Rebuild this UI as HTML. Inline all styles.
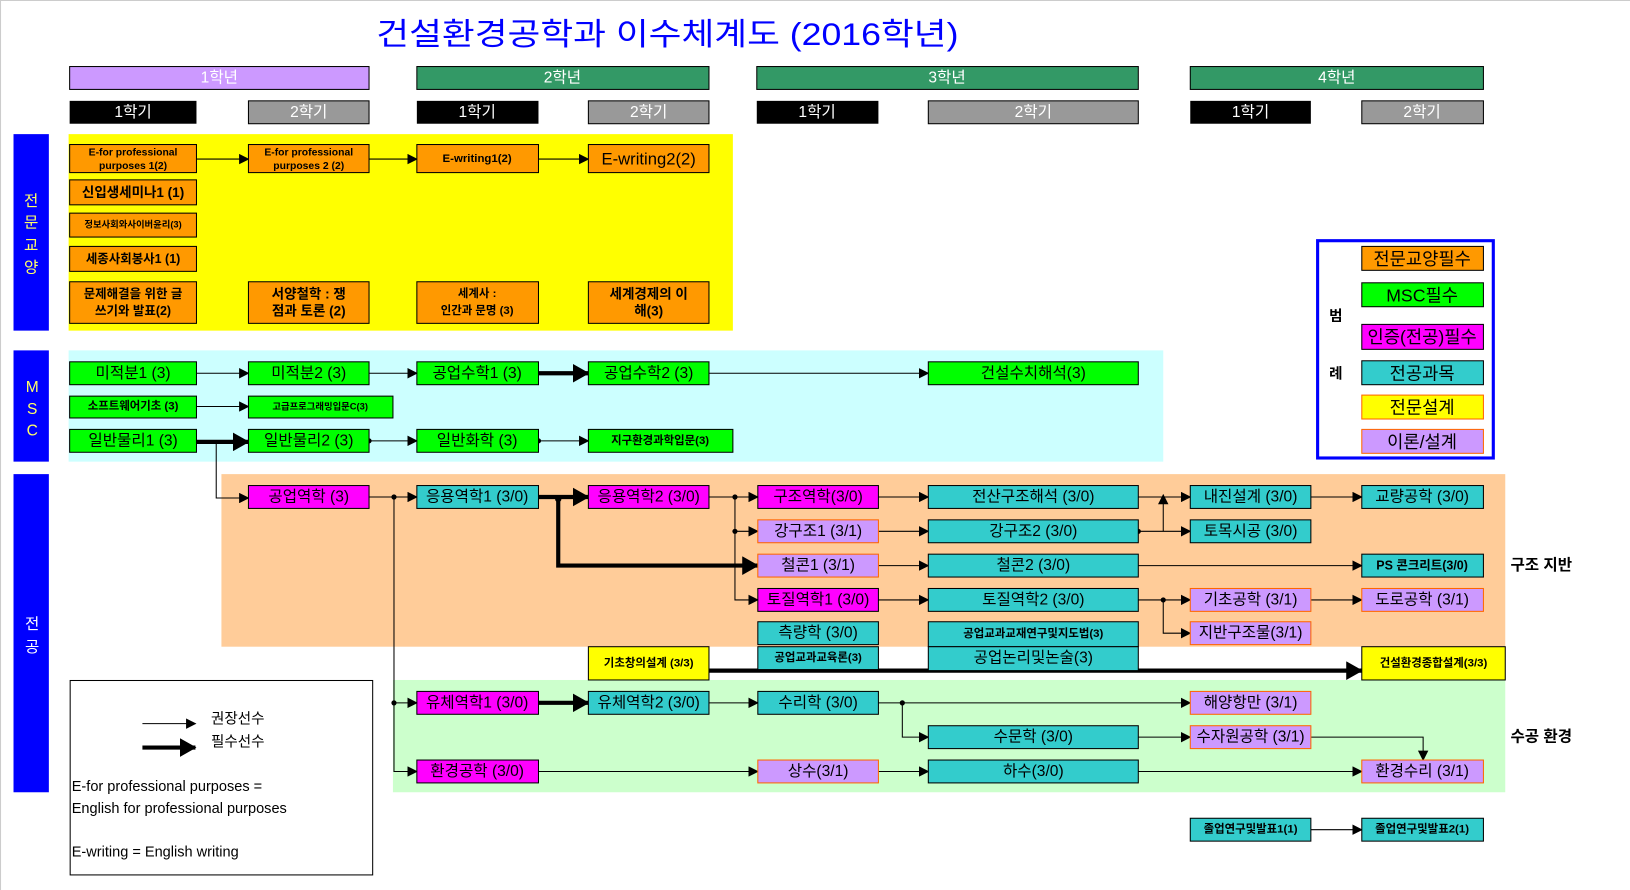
<!DOCTYPE html>
<html><head><meta charset="utf-8"><style>
html,body{margin:0;padding:0;background:#fff;width:1630px;height:890px;overflow:hidden}
svg{display:block}
text{font-family:"Liberation Sans","Noto Sans CJK KR",sans-serif;}
.b{font-size:15px;text-anchor:middle;dominant-baseline:central;fill:#000}
.s{font-size:11px;font-weight:bold;text-anchor:middle;dominant-baseline:central;fill:#000}
.w{font-size:15px;text-anchor:middle;dominant-baseline:central;fill:#fff}
</style></head><body>
<svg width="1630" height="890" viewBox="0 0 1568 856" preserveAspectRatio="none" xmlns="http://www.w3.org/2000/svg">
<defs>
<marker id="a" markerUnits="userSpaceOnUse" markerWidth="10" markerHeight="10" refX="9" refY="5" orient="auto"><path d="M0,0 L10,5 L0,10 z" fill="#000"/></marker>
<marker id="A" markerUnits="userSpaceOnUse" markerWidth="16" markerHeight="18" refX="15" refY="9" orient="auto"><path d="M0,0 L16,9 L0,18 z" fill="#000"/></marker>
</defs>
<rect x="0" y="0" width="1568" height="856" fill="#fff"/>
<line x1="0.5" y1="0" x2="0.5" y2="856" stroke="#ccc"/>
<line x1="0" y1="0.5" x2="1568" y2="0.5" stroke="#ccc"/>
<text x="362" y="33" textLength="560" lengthAdjust="spacingAndGlyphs" style="font-size:30px;fill:#0000ff;dominant-baseline:central">건설환경공학과 이수체계도 (2016학년)</text>

<!-- year headers -->
<rect x="67" y="64" width="288" height="22" fill="#cc99ff" stroke="#000"/><text class="w" x="211" y="75">1학년</text>
<rect x="401" y="64" width="281" height="22" fill="#339966" stroke="#000"/><text class="w" x="541" y="75">2학년</text>
<rect x="728" y="64" width="367" height="22" fill="#339966" stroke="#000"/><text class="w" x="911" y="75">3학년</text>
<rect x="1145" y="64" width="282" height="22" fill="#339966" stroke="#000"/><text class="w" x="1286" y="75">4학년</text>
<rect x="67" y="97" width="122" height="22" fill="#000"/><text class="w" x="128" y="108">1학기</text>
<rect x="239" y="97" width="116" height="22" fill="#999" stroke="#000"/><text class="w" x="297" y="108">2학기</text>
<rect x="401" y="97" width="117" height="22" fill="#000"/><text class="w" x="459" y="108">1학기</text>
<rect x="566" y="97" width="116" height="22" fill="#999" stroke="#000"/><text class="w" x="624" y="108">2학기</text>
<rect x="728" y="97" width="117" height="22" fill="#000"/><text class="w" x="786" y="108">1학기</text>
<rect x="893" y="97" width="202" height="22" fill="#999" stroke="#000"/><text class="w" x="994" y="108">2학기</text>
<rect x="1145" y="97" width="116" height="22" fill="#000"/><text class="w" x="1203" y="108">1학기</text>
<rect x="1310" y="97" width="117" height="22" fill="#999" stroke="#000"/><text class="w" x="1368" y="108">2학기</text>

<!-- side labels -->
<rect x="13" y="129" width="34" height="189" fill="#0000ff"/>
<text style="font-size:15px;fill:#ffff66;text-anchor:middle" x="30" y="198">전</text>
<text style="font-size:15px;fill:#ffff66;text-anchor:middle" x="30" y="219">문</text>
<text style="font-size:15px;fill:#ffff66;text-anchor:middle" x="30" y="241">교</text>
<text style="font-size:15px;fill:#ffff66;text-anchor:middle" x="30" y="262">양</text>
<rect x="13" y="337" width="34" height="107" fill="#0000ff"/>
<text style="font-size:15px;fill:#ffff66;text-anchor:middle" x="31" y="377">M</text>
<text style="font-size:15px;fill:#ffff66;text-anchor:middle" x="31" y="398">S</text>
<text style="font-size:15px;fill:#ffff66;text-anchor:middle" x="31" y="419">C</text>
<rect x="13" y="456" width="34" height="306" fill="#0000ff"/>
<text style="font-size:15px;fill:#fff;text-anchor:middle" x="31" y="605">전</text>
<text style="font-size:15px;fill:#fff;text-anchor:middle" x="31" y="627">공</text>

<!-- regions -->
<rect x="66" y="129" width="639" height="189" fill="#ffff00"/>
<rect x="66" y="337" width="1053" height="107" fill="#ccffff"/>
<rect x="213" y="456" width="1235" height="166" fill="#ffcc99"/>
<rect x="378" y="654" width="1070" height="108" fill="#ccffcc"/>

<!-- connectors (thin) -->
<g stroke="#000" stroke-width="1" fill="none" marker-end="url(#a)">
<line x1="189" y1="153" x2="239" y2="153"/>
<line x1="355" y1="153" x2="401" y2="153"/>
<line x1="518" y1="153" x2="566" y2="153"/>
<line x1="189" y1="359" x2="239" y2="359"/>
<line x1="355" y1="359" x2="401" y2="359"/>
<line x1="682" y1="359" x2="893" y2="359"/>
<line x1="189" y1="391" x2="239" y2="391"/>
<line x1="355" y1="424" x2="401" y2="424"/>
<line x1="518" y1="424" x2="566" y2="424"/>
<polyline points="208,424 208,479 239,479"/>
<line x1="355" y1="478" x2="401" y2="478"/>
<polyline points="379,478 379,676 401,676"/>
<polyline points="379,676 379,742 401,742"/>
<line x1="682" y1="478" x2="729" y2="478"/>
<polyline points="707,478 707,511 729,511"/>
<polyline points="707,511 707,577 729,577"/>
<line x1="845" y1="478" x2="893" y2="478"/>
<line x1="845" y1="511" x2="893" y2="511"/>
<line x1="845" y1="544" x2="893" y2="544"/>
<line x1="845" y1="577" x2="893" y2="577"/>
<line x1="1095" y1="478" x2="1145" y2="478"/>
<line x1="1095" y1="511" x2="1145" y2="511"/>
<line x1="1119" y1="511" x2="1119" y2="476"/>
<line x1="1261" y1="478" x2="1310" y2="478"/>
<line x1="1095" y1="544" x2="1310" y2="544"/>
<line x1="1095" y1="577" x2="1145" y2="577"/>
<polyline points="1119,577 1119,609 1145,609"/>
<line x1="1261" y1="577" x2="1310" y2="577"/>
<line x1="682" y1="676" x2="729" y2="676"/>
<line x1="845" y1="676" x2="1145" y2="676"/>
<polyline points="868,676 868,709 893,709"/>
<line x1="1095" y1="709" x2="1145" y2="709"/>
<polyline points="1261,709 1369,709 1369,731"/>
<line x1="518" y1="742" x2="729" y2="742"/>
<line x1="845" y1="742" x2="893" y2="742"/>
<line x1="1095" y1="742" x2="1310" y2="742"/>
<line x1="1261" y1="798" x2="1310" y2="798"/>
<line x1="137" y1="696" x2="188" y2="696"/>
</g>
<!-- thick -->
<g stroke="#000" stroke-width="4" fill="none" marker-end="url(#A)">
<line x1="518" y1="359" x2="566" y2="359"/>
<line x1="189" y1="425" x2="239" y2="425"/>
<line x1="518" y1="478" x2="566" y2="478"/>
<polyline points="537,478 537,544 729,544"/>
<line x1="682" y1="645" x2="1310" y2="645"/>
<line x1="518" y1="676" x2="566" y2="676"/>
<line x1="137" y1="719" x2="188" y2="719"/>
</g>
<g fill="#000">
<circle cx="355" cy="424" r="2.5"/><circle cx="518" cy="424" r="2.5"/>
<circle cx="379" cy="478" r="2.5"/><circle cx="379" cy="676" r="2.5"/>
<circle cx="537" cy="480" r="3"/><circle cx="707" cy="478" r="2.5"/><circle cx="707" cy="511" r="2.5"/>
<circle cx="1095" cy="511" r="2.5"/><circle cx="1119" cy="577" r="2.5"/><circle cx="868" cy="676" r="2.5"/>
</g>

<!-- 전문교양 boxes -->
<g stroke="#000" stroke-width="1" fill="#ff9900">
<rect x="67" y="139" width="122" height="27"/><rect x="239" y="139" width="116" height="27"/>
<rect x="401" y="139" width="117" height="27"/><rect x="566" y="139" width="116" height="27"/>
<rect x="67" y="173" width="122" height="24"/><rect x="67" y="205" width="122" height="23"/>
<rect x="67" y="237" width="122" height="24"/>
<rect x="67" y="271" width="122" height="40"/><rect x="239" y="271" width="116" height="40"/>
<rect x="401" y="271" width="117" height="40"/><rect x="566" y="271" width="116" height="40"/>
</g>
<text class="s" x="128" y="147" style="font-size:10px">E-for professional</text>
<text class="s" x="128" y="160" style="font-size:10px">purposes 1(2)</text>
<text class="s" x="297" y="147" style="font-size:10px">E-for professional</text>
<text class="s" x="297" y="160" style="font-size:10px">purposes 2 (2)</text>
<text class="s" x="459" y="153">E-writing1(2)</text>
<text class="b" x="624" y="153" style="font-size:16px">E-writing2(2)</text>
<text class="s" x="128" y="185" style="font-size:13px">신입생세미나1 (1)</text>
<text class="s" x="128" y="216" style="font-size:9px">정보사회와사이버윤리(3)</text>
<text class="s" x="128" y="249" style="font-size:12px">세종사회봉사1 (1)</text>
<text class="s" x="128" y="283" style="font-size:12px">문제해결을 위한 글</text>
<text class="s" x="128" y="299" style="font-size:12px">쓰기와 발표(2)</text>
<text class="s" x="297" y="283" style="font-size:13px">서양철학 :  쟁</text>
<text class="s" x="297" y="299" style="font-size:13px">점과 토론 (2)</text>
<text class="s" x="459" y="283">세계사 :</text>
<text class="s" x="459" y="299">인간과 문명 (3)</text>
<text class="s" x="624" y="283" style="font-size:13px">세계경제의 이</text>
<text class="s" x="624" y="299" style="font-size:13px">해(3)</text>

<!-- MSC boxes -->
<g stroke="#000" stroke-width="1" fill="#00ff00">
<rect x="67" y="348" width="122" height="22"/><rect x="239" y="348" width="116" height="22"/>
<rect x="401" y="348" width="117" height="22"/><rect x="566" y="348" width="116" height="22"/>
<rect x="893" y="348" width="202" height="22"/>
<rect x="67" y="381" width="122" height="21"/><rect x="239" y="381" width="139" height="21"/>
<rect x="67" y="413" width="122" height="22"/><rect x="239" y="413" width="116" height="22"/>
<rect x="401" y="413" width="117" height="22"/><rect x="566" y="413" width="139" height="22"/>
</g>
<text class="b" x="128" y="359">미적분1 (3)</text><text class="b" x="297" y="359">미적분2 (3)</text>
<text class="b" x="459" y="359">공업수학1 (3)</text><text class="b" x="624" y="359">공업수학2 (3)</text>
<text class="b" x="994" y="359">건설수치해석(3)</text>
<text class="s" x="128" y="391">소프트웨어기초 (3)</text><text class="s" x="308" y="391" style="font-size:9px">고급프로그래밍입문C(3)</text>
<text class="b" x="128" y="424">일반물리1 (3)</text><text class="b" x="297" y="424">일반물리2 (3)</text>
<text class="b" x="459" y="424">일반화학 (3)</text><text class="s" x="635" y="424">지구환경과학입문(3)</text>

<!-- 전공 boxes -->
<g stroke="#000" stroke-width="1">
<rect x="239" y="467" width="116" height="22" fill="#ff00ff"/>
<rect x="401" y="467" width="117" height="22" fill="#33cccc"/>
<rect x="566" y="467" width="116" height="22" fill="#ff00ff"/>
<rect x="729" y="467" width="116" height="22" fill="#ff00ff"/>
<rect x="893" y="467" width="202" height="22" fill="#33cccc"/>
<rect x="1145" y="467" width="116" height="22" fill="#33cccc"/>
<rect x="1310" y="467" width="117" height="22" fill="#33cccc"/>
<rect x="893" y="500" width="202" height="22" fill="#33cccc"/>
<rect x="1145" y="500" width="116" height="22" fill="#33cccc"/>
<rect x="893" y="533" width="202" height="22" fill="#33cccc"/>
<rect x="1310" y="533" width="117" height="22" fill="#33cccc"/>
<rect x="729" y="566" width="116" height="22" fill="#ff00ff"/>
<rect x="893" y="566" width="202" height="22" fill="#33cccc"/>
<rect x="729" y="598" width="116" height="22" fill="#33cccc"/>
<rect x="893" y="598" width="202" height="24" fill="#33cccc"/>
<rect x="729" y="622" width="116" height="22" fill="#33cccc"/>
<rect x="893" y="622" width="202" height="23" fill="#33cccc"/>
<rect x="566" y="622" width="116" height="32" fill="#ffff00"/>
<rect x="1310" y="622" width="138" height="32" fill="#ffff00"/>
<rect x="401" y="665" width="117" height="22" fill="#ff00ff"/>
<rect x="566" y="665" width="116" height="22" fill="#33cccc"/>
<rect x="729" y="665" width="116" height="22" fill="#33cccc"/>
<rect x="893" y="698" width="202" height="22" fill="#33cccc"/>
<rect x="401" y="731" width="117" height="22" fill="#ff00ff"/>
<rect x="893" y="731" width="202" height="22" fill="#33cccc"/>
<rect x="1145" y="787" width="116" height="22" fill="#33cccc"/>
<rect x="1310" y="787" width="117" height="22" fill="#33cccc"/>
</g>
<g stroke="#ff6600" stroke-width="1" fill="#cc99ff">
<rect x="729" y="500" width="116" height="22"/><rect x="729" y="533" width="116" height="22"/>
<rect x="1145" y="566" width="116" height="22"/><rect x="1310" y="566" width="117" height="22"/>
<rect x="1145" y="598" width="116" height="22"/>
<rect x="1145" y="665" width="116" height="22"/><rect x="1145" y="698" width="116" height="22"/>
<rect x="729" y="731" width="116" height="22"/><rect x="1310" y="731" width="117" height="22"/>
</g>
<text class="b" x="297" y="478">공업역학 (3)</text>
<text class="b" x="459" y="478">응용역학1 (3/0)</text>
<text class="b" x="624" y="478">응용역학2 (3/0)</text>
<text class="b" x="787" y="478">구조역학(3/0)</text>
<text class="b" x="994" y="478">전산구조해석 (3/0)</text>
<text class="b" x="1203" y="478">내진설계 (3/0)</text>
<text class="b" x="1368" y="478">교량공학 (3/0)</text>
<text class="b" x="787" y="511">강구조1 (3/1)</text>
<text class="b" x="994" y="511">강구조2 (3/0)</text>
<text class="b" x="1203" y="511">토목시공 (3/0)</text>
<text class="b" x="787" y="544">철콘1 (3/1)</text>
<text class="b" x="994" y="544">철콘2 (3/0)</text>
<text class="s" x="1368" y="544" style="font-size:12px">PS 콘크리트(3/0)</text>
<text class="b" x="787" y="577">토질역학1 (3/0)</text>
<text class="b" x="994" y="577">토질역학2 (3/0)</text>
<text class="b" x="1203" y="577">기초공학 (3/1)</text>
<text class="b" x="1368" y="577">도로공학 (3/1)</text>
<text class="b" x="787" y="609">측량학 (3/0)</text>
<text class="s" x="994" y="610">공업교과교재연구및지도법(3)</text>
<text class="b" x="1203" y="609">지반구조물(3/1)</text>
<text class="s" x="787" y="633">공업교과교육론(3)</text>
<text class="b" x="994" y="633">공업논리및논술(3)</text>
<text class="s" x="624" y="638">기초창의설계 (3/3)</text>
<text class="s" x="1379" y="638">건설환경종합설계(3/3)</text>
<text class="b" x="459" y="676">유체역학1 (3/0)</text>
<text class="b" x="624" y="676">유체역학2 (3/0)</text>
<text class="b" x="787" y="676">수리학 (3/0)</text>
<text class="b" x="1203" y="676">해양항만 (3/1)</text>
<text class="b" x="994" y="709">수문학 (3/0)</text>
<text class="b" x="1203" y="709">수자원공학 (3/1)</text>
<text class="b" x="459" y="742">환경공학 (3/0)</text>
<text class="b" x="787" y="742">상수(3/1)</text>
<text class="b" x="994" y="742">하수(3/0)</text>
<text class="b" x="1368" y="742">환경수리 (3/1)</text>
<text class="s" x="1203" y="798">졸업연구및발표1(1)</text>
<text class="s" x="1368" y="798">졸업연구및발표2(1)</text>
<text x="1453" y="544" style="font-size:15px;font-weight:bold;dominant-baseline:central">구조 지반</text>
<text x="1453" y="709" style="font-size:15px;font-weight:bold;dominant-baseline:central">수공 환경</text>

<!-- legend -->
<rect x="1267.5" y="231.5" width="169" height="209" fill="#fff" stroke="#0000ff" stroke-width="3"/>
<text x="1285" y="305" style="font-size:14px;font-weight:bold;text-anchor:middle;dominant-baseline:central">범</text>
<text x="1285" y="360" style="font-size:14px;font-weight:bold;text-anchor:middle;dominant-baseline:central">례</text>
<g stroke="#000">
<rect x="1310" y="237" width="117" height="23" fill="#ff9900"/>
<rect x="1310" y="272" width="117" height="23" fill="#00ff00"/>
<rect x="1310" y="312" width="117" height="24" fill="#ff00ff"/>
<rect x="1310" y="347" width="117" height="23" fill="#33cccc"/>
</g>
<g stroke="#ff6600">
<rect x="1310" y="380" width="117" height="23" fill="#ffff00"/>
<rect x="1310" y="413" width="117" height="23" fill="#cc99ff"/>
</g>
<text class="b" x="1368" y="249" style="font-size:17px">전문교양필수</text>
<text class="b" x="1368" y="284" style="font-size:17px">MSC필수</text>
<text class="b" x="1368" y="324" style="font-size:17px">인증(전공)필수</text>
<text class="b" x="1368" y="359" style="font-size:17px">전공과목</text>
<text class="b" x="1368" y="392" style="font-size:17px">전문설계</text>
<text class="b" x="1368" y="425" style="font-size:17px">이론/설계</text>

<!-- note box -->
<rect x="67.5" y="654.5" width="291" height="187" fill="none" stroke="#000"/>
<text x="203" y="692" style="font-size:14px;dominant-baseline:central">권장선수</text>
<text x="203" y="714" style="font-size:14px;dominant-baseline:central">필수선수</text>
<text x="69" y="757" style="font-size:14px;dominant-baseline:central">E-for professional purposes =</text>
<text x="69" y="778" style="font-size:14px;dominant-baseline:central">English for professional purposes</text>
<text x="69" y="820" style="font-size:14px;dominant-baseline:central">E-writing = English writing</text>
</svg>
</body></html>
